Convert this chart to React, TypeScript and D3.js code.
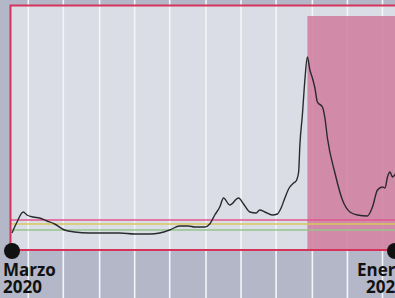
import React, { useEffect, useRef } from 'react';
import * as d3 from 'd3';

// days since 1 March 2020, value in chart units
const days = [0, 4, 9, 12, 17, 22, 28, 34, 42, 50, 62, 78, 86, 98, 110, 118, 126, 134, 141, 146,
  154, 158, 162, 166, 169, 174, 181, 185, 190, 195, 198, 202, 208, 212, 215, 218, 221, 225, 227,
  229, 230, 232, 234, 236, 238, 240, 242, 244, 248, 250, 252, 258, 264, 270, 276, 284, 288, 292,
  296, 298, 300, 302, 304, 308];
const values = [17, 28, 38, 35, 33, 32, 29, 26, 20, 18, 17, 17, 17, 16, 16, 17, 20, 24, 24, 23,
  23, 26, 35, 43, 52, 45, 52, 46, 38, 37, 40, 38, 35, 36, 42, 52, 61, 67, 69,
  78, 105, 135, 170, 193, 180, 172, 162, 148, 143, 132, 112, 77, 50, 38, 35, 34, 43, 60,
  63, 62, 73, 78, 73, 80];

const gridDays = [13, 41, 70, 98, 126, 155, 183, 211, 240, 268, 296];
const thresholds = [30, 26, 20];
const thresholdColors = ['#e2558f', '#d9c75e', '#95c48c'];
const shadeDays = [236, 320];
const shadeTop = 234;
const labels = [
  { day: 0, lines: ['Marzo', '2020'], dx: -9 },
  { day: 306, lines: ['Enero', '2021'], dx: -38 },
];

const W = 395, H = 298;

function Chart() {
  const ref = useRef<SVGSVGElement>(null);

  useEffect(() => {
    const svg = d3.select(ref.current);
    svg.selectAll('*').remove();

    const x = d3.scaleLinear().domain([0, 306]).range([12, 395]);
    const y = d3.scaleLinear().domain([0, 200]).range([250, 50]);

    // backdrop
    svg.append('rect').attr('width', W).attr('height', H).attr('fill', '#b3b7c8');
    svg.append('rect')
      .attr('x', 10).attr('y', 5)
      .attr('width', W - 10).attr('height', y(0) - 5)
      .attr('fill', '#dadde5');

    // vertical grid
    svg.append('g').selectAll('line')
      .data(gridDays)
      .enter().append('line')
      .attr('x1', d => x(d)).attr('x2', d => x(d))
      .attr('y1', 0).attr('y2', H)
      .attr('stroke', '#f4f5f8')
      .attr('stroke-width', 1.6);

    // shaded period
    svg.append('rect')
      .attr('x', x(shadeDays[0]))
      .attr('y', y(shadeTop))
      .attr('width', x(shadeDays[1]) - x(shadeDays[0]))
      .attr('height', y(0) - y(shadeTop))
      .attr('fill', '#cf799c')
      .attr('opacity', 0.84);

    // threshold lines
    svg.append('g').selectAll('line')
      .data(thresholds)
      .enter().append('line')
      .attr('x1', 10).attr('x2', W)
      .attr('y1', d => y(d)).attr('y2', d => y(d))
      .attr('stroke', (d, i) => thresholdColors[i])
      .attr('stroke-width', 1.5);

    // frame
    svg.append('path')
      .attr('d', `M${W},5.5H10.5V${y(0)}H${W}`)
      .attr('fill', 'none')
      .attr('stroke', '#d5345a')
      .attr('stroke-width', 2);

    const pts = days.map((d, i) => [d, values[i]] as [number, number]);
    const line = d3.line<[number, number]>()
      .x(d => x(d[0]))
      .y(d => y(d[1]))
      .curve(d3.curveMonotoneX);

    svg.append('path')
      .datum(pts)
      .attr('d', line)
      .attr('fill', 'none')
      .attr('stroke', '#2a2a2e')
      .attr('stroke-width', 1.4);

    // markers + labels
    labels.forEach(l => {
      svg.append('circle')
        .attr('cx', x(l.day)).attr('cy', y(0) + 1)
        .attr('r', 8)
        .attr('fill', '#111');
      const t = svg.append('text')
        .attr('x', x(l.day) + l.dx)
        .attr('y', 276)
        .style('font-family', '"Open Sans", sans-serif')
        .style('font-weight', 700)
        .style('font-size', '17px')
        .attr('fill', '#111');
      l.lines.forEach((s, i) => {
        t.append('tspan')
          .attr('x', x(l.day) + l.dx + (i === 1 && l.day > 0 ? 9 : 0))
          .attr('dy', i === 0 ? 0 : 17)
          .text(s);
      });
    });
  }, []);

  return <svg ref={ref} width={W} height={H} style={{ position: 'absolute', left: 0, top: 0 }} />;
}

export default function App() {
  return <Chart />;
}
